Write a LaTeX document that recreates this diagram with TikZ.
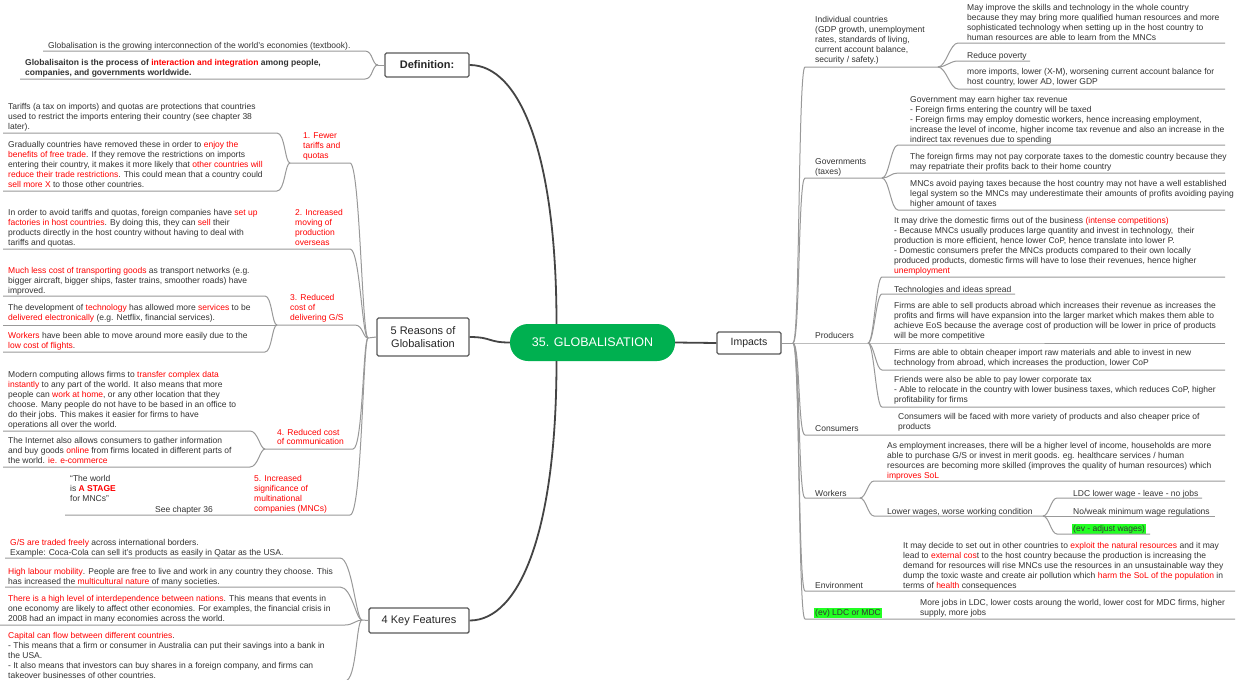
\documentclass[tikz,border=0pt]{standalone}
\usepackage{fontspec}
\setmainfont{Liberation Sans}
\usetikzlibrary{calc}
\definecolor{txtc}{HTML}{333333}
\definecolor{myred}{HTML}{FF0000}
\definecolor{cvc}{HTML}{999999}
\definecolor{mainc}{HTML}{444444}
\definecolor{boxc}{HTML}{5A5A5A}
\definecolor{cgreen}{HTML}{00B050}
\definecolor{hlgreen}{HTML}{22FF22}
\newcommand\rd[1]{\textcolor{myred}{#1}}
\begin{document}
\begin{tikzpicture}[x=1pt,y=-1pt,
  txt/.style={anchor=north west,inner sep=0pt,align=left,font=\fontsize{8.5}{10}\selectfont,text=txtc,execute at begin node=\strut},
  rtxt/.style={txt,text=myred},
  cv/.style={draw=cvc,line width=1pt},
  mainl/.style={draw=mainc,line width=1.8pt},
  bx/.style={draw=boxc,line width=1.4pt,fill=white,rounded corners=1.5pt,inner sep=0pt,text=black!85,align=center},
  hl/.style={fill=hlgreen,inner xsep=1pt},
]
\fill[white] (0,0) rectangle (1240,680);
\useasboundingbox (0,0) rectangle (1240,680);
\clip (0,0) rectangle (1240,680);

% ---------- central and main boxes ----------
\node[fill=cgreen,rounded corners=18pt,minimum width=165pt,minimum height=37pt,inner sep=0pt,text=white,font=\fontsize{12.5}{15}\selectfont] (c) at (592.5,342.5) {35. GLOBALISATION};
\node[bx,minimum width=84pt,minimum height=24pt,font=\bfseries\fontsize{11}{13}\selectfont] (def) at (427,65) {Definition:};
\node[bx,minimum width=92pt,minimum height=38pt,font=\fontsize{11}{13}\selectfont] (reas) at (423,337) {5 Reasons of\\Globalisation};
\node[bx,minimum width=100pt,minimum height=25pt,font=\fontsize{11}{13}\selectfont] (kf) at (419,620.5) {4 Key Features};
\node[bx,minimum width=64pt,minimum height=22pt,font=\fontsize{10.5}{13}\selectfont] (imp) at (749,343) {Impacts};

\draw[mainl] (def.east) .. controls +(50,0) and +(0,-170) .. ($(c.north)+(-36,0)$);
\draw[mainl] (kf.east) .. controls +(50,0) and +(0,170) .. ($(c.south)+(-36,0)$);
\draw[mainl] (reas.east) .. controls +(22,0) and +(-22,0) .. (c.west);
\draw[mainl] (c.east) -- (imp.west);

% ---------- Definition ----------
\node[txt] (d1) at (48,41) {Globalisation is the growing interconnection of the world’s economies (textbook).};
\node[txt,font=\bfseries\fontsize{8.5}{10}\selectfont] (d2) at (25,59) {Globalisaiton is the process of \rd{interaction and integration} among people,\\companies, and governments worldwide.};
\coordinate (Jdef) at (378,65);
\draw[cv] (43,51) -- (365,51) .. controls +(8,0) and +(-6,0) .. (Jdef);
\draw[cv] (20,79) -- (365,79) .. controls +(8,0) and +(-6,0) .. (Jdef);
\draw[cv] (Jdef) -- (def.west);

% ---------- 5 Reasons ----------
\coordinate (JR) at (368,338);
\draw[cv] (JR) -- (reas.west);

\node[rtxt] (r1) at (303,132) {1. Fewer\\tariffs and\\quotas};
\node[txt] (s11) at (8,103) {Tariffs (a tax on imports) and quotas are protections that countries\\used to restrict the imports entering their country (see chapter 38\\later).};
\node[txt] (s12) at (8,141) {Gradually countries have removed these in order to \rd{enjoy the}\\\rd{benefits of free trade}. If they remove the restrictions on imports\\entering their country, it makes it more likely that \rd{other countries will}\\\rd{reduce their trade restrictions}. This could mean that a country could\\\rd{sell more X} to those other countries.};
\coordinate (J1) at (290,163);
\draw[cv] (3,133) -- (277,133) .. controls +(8,0) and +(-5,0) .. (J1);
\draw[cv] (3,191) -- (277,191) .. controls +(8,0) and +(-5,0) .. (J1);
\draw[cv] (J1) -- (350,163) .. controls +(10,0) and +(-6,0) .. (JR);

\node[rtxt] (r2) at (295,209) {2. Increased\\moving of\\production\\overseas};
\node[txt] (s2) at (8,209) {In order to avoid tariffs and quotas, foreign companies have \rd{set up}\\\rd{factories in host countries}. By doing this, they can \rd{sell} their\\products directly in the host country without having to deal with\\tariffs and quotas.};
\draw[cv] (3,249) -- (350,249) .. controls +(10,0) and +(-6,0) .. (JR);

\node[rtxt] (r3) at (290,294) {3. Reduced\\cost of\\delivering G/S};
\node[txt] (s31) at (8,267) {\rd{Much less cost of transporting goods} as transport networks (e.g.\\bigger aircraft, bigger ships, faster trains, smoother roads) have\\improved.};
\node[txt] (s32) at (8,304) {The development of \rd{technology} has allowed more \rd{services} to be\\\rd{delivered electronically} (e.g. Netflix, financial services).};
\node[txt] (s33) at (8,332) {\rd{Workers} have been able to move around more easily due to the\\\rd{low cost of flights}.};
\coordinate (J3) at (277,325);
\draw[cv] (3,296) -- (265,296) .. controls +(7,0) and +(-5,0) .. (J3);
\draw[cv] (3,325) -- (J3);
\draw[cv] (3,352) -- (265,352) .. controls +(7,0) and +(-5,0) .. (J3);
\draw[cv] (J3) -- (355,325) .. controls +(8,0) and +(-5,0) .. (JR);

\node[rtxt,font=\fontsize{8.5}{9.5}\selectfont] (r4) at (277,429) {4. Reduced cost\\of communication};
\node[txt] (s41) at (8,371) {Modern computing allows firms to \rd{transfer complex data}\\\rd{instantly} to any part of the world. It also means that more\\people can \rd{work at home}, or any other location that they\\choose. Many people do not have to be based in an office to\\do their jobs. This makes it easier for firms to have\\operations all over the world.};
\node[txt] (s42) at (8,437) {The Internet also allows consumers to gather information\\and buy goods \rd{online} from firms located in different parts of\\the world. \rd{ie. e-commerce}};
\coordinate (J4) at (265,449);
\draw[cv] (3,431) -- (250,431) .. controls +(8,0) and +(-5,0) .. (J4);
\draw[cv] (3,467) -- (250,467) .. controls +(8,0) and +(-5,0) .. (J4);
\draw[cv] (J4) -- (353,449) .. controls +(10,0) and +(-5,0) .. (JR);

\node[rtxt] (r5) at (254,475) {5. Increased\\significance of\\multinational\\companies (MNCs)};
\node[txt] (s51) at (70,475) {“The world\\is \textbf{\rd{A STAGE}}\\for MNCs”};
\node[txt] (s52) at (155,505) {See chapter 36};
\coordinate (J5a) at (120,515);
\coordinate (J5b) at (218,515);
\draw[cv] (65,515) -- (J5a) -- (J5b) -- (350,515) .. controls +(12,0) and +(-5,0) .. (JR);

% ---------- 4 Key Features ----------
\coordinate (JK) at (362,620);
\draw[cv] (JK) -- (kf.west);
\node[txt] (k1) at (10,539) {\rd{G/S are traded freely} across international borders.\\Example: Coca-Cola can sell it’s products as easily in Qatar as the USA.};
\node[txt] (k2) at (8,568) {\rd{High labour mobility}. People are free to live and work in any country they choose. This\\has increased the \rd{multicultural nature} of many societies.};
\node[txt] (k3) at (8,595) {\rd{There is a high level of interdependence between nations}. This means that events in\\one economy are likely to affect other economies. For examples, the financial crisis in\\2008 had an impact in many economies across the world.};
\node[txt] (k4) at (8,632) {\rd{Capital can flow between different countries}.\\- This means that a firm or consumer in Australia can put their savings into a bank in\\the USA.\\- It also means that investors can buy shares in a foreign company, and firms can\\takeover businesses of other countries.};
\draw[cv] (5,558) -- (340,558) .. controls +(12,0) and +(-6,0) .. (JK);
\draw[cv] (5,587) -- (340,587) .. controls +(12,0) and +(-6,0) .. (JK);
\draw[cv] (0,625) -- (345,625) .. controls +(8,0) and +(-6,0) .. (JK);
\draw[cv] (0,681) -- (345,681) .. controls +(12,0) and +(-6,0) .. (JK);

% ---------- Impacts ----------
\coordinate (JI) at (793,343);
\draw[cv] (imp.east) -- (JI);

\node[txt] (a) at (815,16) {Individual countries\\(GDP growth, unemployment\\rates, standards of living,\\current account balance,\\security / safety.)};
\coordinate (Ja) at (938,67);
\draw[cv] (JI) .. controls +(7,0) and +(-7,0) .. (805,67) -- (Ja);
\node[txt] (a1) at (967,4) {May improve the skills and technology in the whole country\\because they may bring more qualified human resources and more\\sophisticated technology when setting up in the host country to\\human resources are able to learn from the MNCs};
\node[txt] (a2) at (967,51) {Reduce poverty};
\node[txt] (a3) at (967,68) {more imports, lower (X-M), worsening current account balance for\\host country, lower AD, lower GDP};
\draw[cv] (Ja) .. controls +(8,0) and +(-8,0) .. (958,43) -- (1225,43);
\draw[cv] (Ja) .. controls +(8,0) and +(-8,0) .. (958,61) -- (1030,61);
\draw[cv] (Ja) .. controls +(8,0) and +(-8,0) .. (958,89) -- (1225,89);

\node[txt] (b) at (815,158) {Governments\\(taxes)};
\coordinate (Jb) at (882,178);
\draw[cv] (JI) .. controls +(7,0) and +(-7,0) .. (805,178) -- (Jb);
\node[txt] (b1) at (910,96) {Government may earn higher tax revenue\\- Foreign firms entering the country will be taxed\\- Foreign firms may employ domestic workers, hence increasing employment,\\increase the level of income, higher income tax revenue and also an increase in the\\indirect tax revenues due to spending};
\node[txt] (b2) at (910,153) {The foreign firms may not pay corporate taxes to the domestic country because they\\may repatriate their profits back to their home country};
\node[txt] (b3) at (910,180) {MNCs avoid paying taxes because the host country may not have a well established\\legal system so the MNCs may underestimate their amounts of profits avoiding paying\\higher amount of taxes};
\draw[cv] (Jb) .. controls +(7,0) and +(-7,0) .. (898,145) -- (1225,145);
\draw[cv] (Jb) .. controls +(7,0) and +(-7,0) .. (898,173) -- (1225,173);
\draw[cv] (Jb) .. controls +(7,0) and +(-7,0) .. (898,210) -- (1225,210);

\node[txt] (cp) at (815,331) {Producers};
\coordinate (Jc) at (868,343);
\draw[cv] (JI) -- (Jc) -- (1225,343);
\node[txt] (c1) at (894,217) {It may drive the domestic firms out of the business \rd{(intense competitions)}\\- Because MNCs usually produces large quantity and invest in technology,\ \ their\\production is more efficient, hence lower CoP, hence translate into lower P.\\- Domestic consumers prefer the MNCs products compared to their own locally\\produced products, domestic firms will have to lose their revenues, hence higher\\\rd{unemployment}};
\node[txt] (c2) at (894,285) {Technologies and ideas spread};
\node[txt] (c3) at (894,302) {Firms are able to sell products abroad which increases their revenue as increases the\\profits and firms will have expansion into the larger market which makes them able to\\achieve EoS because the average cost of production will be lower in price of products\\will be more competitive};
\node[txt] (c4) at (894,349) {Firms are able to obtain cheaper import raw materials and able to invest in new\\technology from abroad, which increases the production, lower CoP};
\node[txt] (c5) at (894,376) {Friends were also be able to pay lower corporate tax\\- Able to relocate in the country with lower business taxes, which reduces CoP, higher\\profitability for firms};
\draw[cv] (Jc) .. controls +(6,0) and +(-6,0) .. (882,277) -- (1225,277);
\draw[cv] (Jc) .. controls +(6,0) and +(-6,0) .. (882,294) -- (1015,294);
\draw[cv] (Jc) .. controls +(6,0) and +(-6,0) .. (882,370) -- (1225,370);
\draw[cv] (Jc) .. controls +(6,0) and +(-6,0) .. (882,407) -- (1225,407);

\node[txt] (d) at (815,424) {Consumers};
\node[txt] (dd1) at (898,413) {Consumers will be faced with more variety of products and also cheaper price of\\products};
\draw[cv] (JI) .. controls +(7,0) and +(-7,0) .. (805,435) -- (1225,435);

\node[txt] (e) at (815,489) {Workers};
\coordinate (Je) at (860,498);
\draw[cv] (JI) .. controls +(7,0) and +(-7,0) .. (805,498) -- (Je);
\node[txt] (e1) at (887,442) {As employment increases, there will be a higher level of income, households are more\\able to purchase G/S or invest in merit goods. eg. healthcare services / human\\resources are becoming more skilled (improves the quality of human resources) which\\\rd{improves SoL}};
\node[txt] (e2) at (887,507) {Lower wages, worse working condition};
\draw[cv] (Je) .. controls +(6,0) and +(-6,0) .. (874,481) -- (1225,481);
\coordinate (Je2) at (1043,516);
\draw[cv] (Je) .. controls +(6,0) and +(-6,0) .. (874,516) -- (Je2);
\node[txt] (e21) at (1073,489) {LDC lower wage - leave - no jobs};
\node[txt] (e22) at (1073,507) {No/weak minimum wage regulations};
\node[txt,hl] (e23) at (1072,524) {(ev - adjust wages)};
\draw[cv] (Je2) .. controls +(6,0) and +(-6,0) .. (1057,498) -- (1202,498);
\draw[cv] (Je2) -- (1215,516);
\draw[cv] (Je2) .. controls +(6,0) and +(-6,0) .. (1057,534) -- (1150,534);

\node[txt] (f) at (815,581) {Environment};
\node[txt] (ff1) at (903,542) {It may decide to set out in other countries to \rd{exploit the natural resources} and it may\\lead to \rd{external cos}t to the host country because the production is increasing the\\demand for resources will rise MNCs use the resources in an unsustainable way they\\dump the toxic waste and create air pollution which \rd{harm the SoL of the population} in\\terms of \rd{health} consequences};
\draw[cv] (JI) .. controls +(7,0) and +(-7,0) .. (805,591) -- (1235,591);

\node[txt,hl] (g) at (814,608) {(ev) LDC or MDC};
\node[txt] (gg1) at (920,599) {More jobs in LDC, lower costs aroung the world, lower cost for MDC firms, higher\\supply, more jobs};
\draw[cv] (JI) .. controls +(7,0) and +(-7,0) .. (805,619) -- (1235,619);
\end{tikzpicture}
\end{document}
